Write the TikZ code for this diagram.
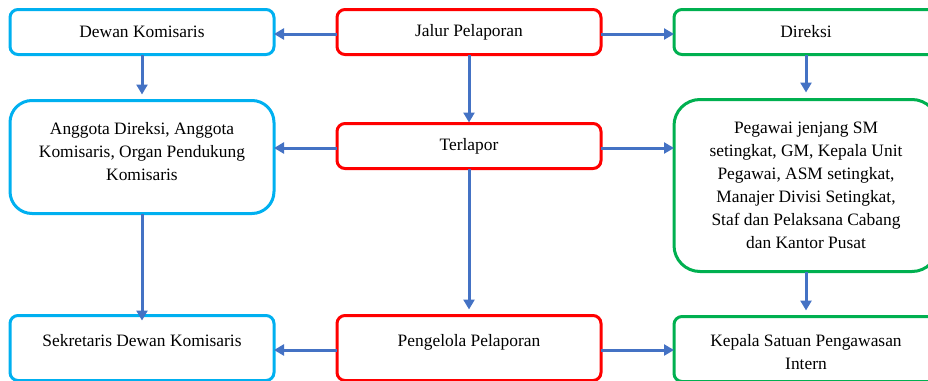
\documentclass[tikz,border=0pt]{standalone}
\usepackage{fontspec}
\setmainfont{Liberation Serif}
\usepackage{tikz}
\usetikzlibrary{arrows.meta,positioning}
\definecolor{komis}{HTML}{00B0F0}
\definecolor{lapor}{HTML}{FF0000}
\definecolor{direk}{HTML}{00B050}
\definecolor{flow}{HTML}{4472C4}
\tikzset{
  box/.style={rectangle, rounded corners=8pt, line width=3pt, fill=white,
              align=center, minimum width=264pt, minimum height=45pt,
              inner sep=6pt, outer sep=0pt, font=\fontsize{17.4}{23}\selectfont},
  kbox/.style={box, draw=komis},
  lbox/.style={box, draw=lapor},
  dbox/.style={box, draw=direk},
  tall/.style={rounded corners=22pt},
  low/.style={minimum height=65pt, text height=42pt},
  fl/.style={-{Triangle[length=10pt,width=11pt]}, draw=flow, line width=3pt}
}

\begin{document}
\begin{tikzpicture}[x=1pt, y=-1pt]
  \useasboundingbox (0,0) rectangle (928,380);

  \node[lbox] (jalur) at (469,32) {Jalur Pelaporan};
  \node[kbox, left=63pt of jalur] (dewan) {Dewan Komisaris};
  \node[dbox, right=73pt of jalur] (direksi) {Direksi};

  \node[lbox, below=69pt of jalur] (terlapor) {Terlapor};
  \node[kbox, tall, minimum height=113pt, text depth=11pt, below=46pt of dewan] (anggota)
    {Anggota Direksi, Anggota\\Komisaris, Organ Pendukung\\Komisaris};
  \node[dbox, tall, rounded corners=26pt, minimum height=172pt, below=45pt of direksi] (pegawai)
    {Pegawai jenjang SM\\setingkat, GM, Kepala Unit\\Pegawai, ASM setingkat,\\
     Manajer Divisi Setingkat,\\Staf dan Pelaksana Cabang\\dan Kantor Pusat};

  % bottom row, text sits in the upper line
  \node[lbox, low, below=147pt of terlapor] (pengelola) {Pengelola Pelaporan\\~};
  \node[kbox, low, below=102pt of anggota] (sekretaris) {Sekretaris Dewan Komisaris\\~};
  \node[dbox, low, below=45pt of pegawai] (kepala) {Kepala Satuan Pengawasan\\Intern};

  \foreach \a/\b/\s in {dewan/anggota/6pt, jalur/terlapor/1pt, direksi/pegawai/7pt,
                        anggota/sekretaris/-5pt, terlapor/pengelola/6pt, pegawai/kepala/6pt}
     \draw[fl, shorten >=\s] (\a.south) -- (\b.north);
  \foreach \a/\b in {jalur/dewan, terlapor/anggota, pengelola/sekretaris}
     \draw[fl] ([yshift=-2pt]\a.west) -- ([yshift=-2pt]\a.west -| \b.east);
  \foreach \a/\b in {jalur/direksi, terlapor/pegawai, pengelola/kepala}
     \draw[fl] ([yshift=-2pt]\a.east) -- ([yshift=-2pt]\a.east -| \b.west);
\end{tikzpicture}
\end{document}
